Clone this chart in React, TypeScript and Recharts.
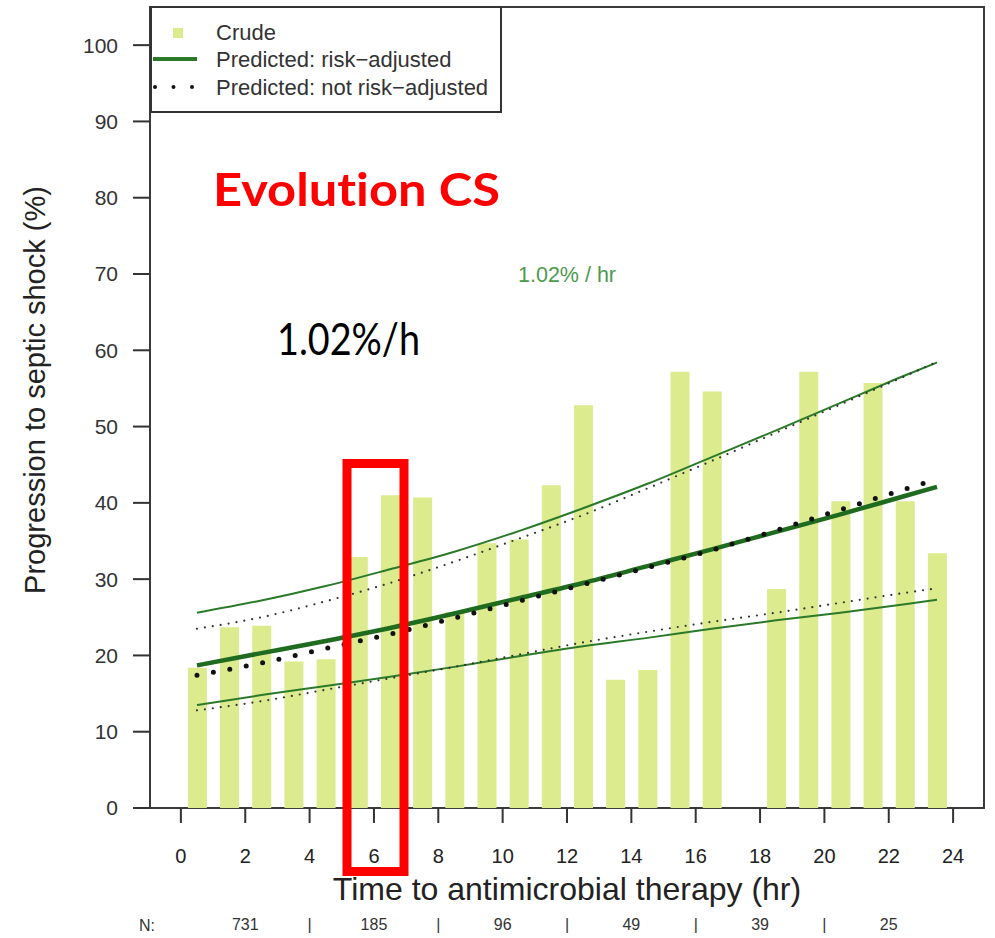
import React from 'react';
import { ComposedChart, Bar, Line, XAxis, YAxis, ReferenceArea, ReferenceDot } from 'recharts';

// crude rate per one-hour bin (17-18 h bin has no bar)
const hours = [0.5, 1.5, 2.5, 3.5, 4.5, 5.5, 6.5, 7.5, 8.5, 9.5, 10.5, 11.5, 12.5, 13.5, 14.5, 15.5, 16.5, 17.5, 18.5, 19.5, 20.5, 21.5, 22.5, 23.5];
const crude = [18.4, 23.7, 23.9, 19.2, 19.5, 32.9, 41.0, 40.7, 25.7, 34.7, 35.2, 42.3, 52.8, 16.8, 18.1, 57.2, 54.6, null, 28.7, 57.2, 40.2, 55.7, 40.2, 33.4];

// fitted curves with their confidence bands, read on the bin centres
const fitHours = [0.5, 2.5, 4.5, 6.5, 8.5, 10.5, 12.5, 14.5, 16.5, 18.5, 20.5, 22.5, 23.5];
const adjusted = [18.7, 20.3, 21.9, 23.6, 25.5, 27.5, 29.5, 31.7, 33.9, 36.2, 38.5, 40.9, 42.1];
const adjustedHi = [25.6, 27.2, 29.1, 31.3, 33.6, 36.3, 39.3, 42.5, 46.0, 49.5, 53.1, 56.7, 58.4];
const adjustedLo = [13.5, 14.8, 16.0, 17.2, 18.5, 19.9, 21.2, 22.3, 23.5, 24.6, 25.6, 26.7, 27.3];
const unadjusted = [17.4, 19.0, 20.9, 22.8, 24.9, 27.1, 29.3, 31.5, 33.8, 36.4, 39.1, 41.8, 43.1];
const unadjustedHi = [23.5, 25.0, 27.1, 29.5, 32.3, 35.3, 38.4, 41.9, 45.5, 49.2, 52.9, 56.6, 58.5];
const unadjustedLo = [12.8, 14.0, 15.5, 17.0, 18.5, 20.1, 21.7, 23.1, 24.4, 25.6, 26.9, 28.2, 28.8];

const xTicks = [0, 2, 4, 6, 8, 10, 12, 14, 16, 18, 20, 22, 24];
const yTicks = [0, 10, 20, 30, 40, 50, 60, 70, 80, 90, 100];

// patient counts under the x axis
const nHours = [2, 4, 6, 8, 10, 12, 14, 16, 18, 20, 22];
const nLabels = ['731', '|', '185', '|', '96', '|', '49', '|', '39', '|', '25'];

const rows = hours.map((t, i) => {
  const f = fitHours.indexOf(t);
  return {
    t,
    crude: crude[i],
    adjusted: f >= 0 ? adjusted[f] : null,
    adjustedHi: f >= 0 ? adjustedHi[f] : null,
    adjustedLo: f >= 0 ? adjustedLo[f] : null,
    unadjusted: f >= 0 ? unadjusted[f] : null,
    unadjustedHi: f >= 0 ? unadjustedHi[f] : null,
    unadjustedLo: f >= 0 ? unadjustedLo[f] : null,
  };
});

const FONT = '"Liberation Sans", Arial, Helvetica, sans-serif';
const HUMANIST = 'Lato, "Open Sans", sans-serif';
const BAR = '#dbeb8e';
const GREEN = '#2a7a2a';
const DARK_GREEN = '#1f6b1f';

const App = () => {
  return (
    <div style={{ position: 'absolute', left: 0, top: 0, width: 995, height: 938, background: '#fff' }}>
      <ComposedChart
        width={995}
        height={938}
        data={rows}
        margin={{ top: 7, right: 11, bottom: 0, left: 0 }}
      >
        <XAxis
          dataKey="t"
          type="number"
          domain={[-0.96, 24.96]}
          allowDataOverflow
          ticks={xTicks}
          interval={0}
          axisLine={false}
          tickLine={{ stroke: '#333', strokeWidth: 2 }}
          tickSize={15}
          tickMargin={26}
          height={95}
          tick={{ fontSize: 20, fill: '#222', fontFamily: FONT }}
          label={{
            content: ({ viewBox }: any) => (
              <text
                x={viewBox.x + viewBox.width / 2}
                y={900}
                textAnchor="middle"
                fontSize={32}
                fontFamily={FONT}
                fill="#222"
              >
                Time to antimicrobial therapy (hr)
              </text>
            ),
          }}
        />
        <XAxis
          xAxisId="n"
          dataKey="t"
          type="number"
          domain={[-0.96, 24.96]}
          allowDataOverflow
          ticks={nHours}
          interval={0}
          axisLine={false}
          tickLine={false}
          tickSize={0}
          tickMargin={16}
          height={35}
          tick={{ fontSize: 16, fill: '#333', fontFamily: FONT }}
          tickFormatter={(v: number) => nLabels[nHours.indexOf(v)] ?? ''}
          label={{
            content: ({ viewBox }: any) => (
              <text x={viewBox.x - 11} y={931} fontSize={16} fontFamily={FONT} fill="#333">
                N:
              </text>
            ),
          }}
        />
        <YAxis
          type="number"
          domain={[0, 105]}
          allowDataOverflow
          ticks={yTicks}
          interval={0}
          width={150}
          axisLine={false}
          tickLine={{ stroke: '#333', strokeWidth: 2 }}
          tickSize={17}
          tickMargin={15}
          tick={{ fontSize: 21, fill: '#333', fontFamily: FONT }}
          label={{
            content: () => (
              <text
                transform="translate(45, 390) rotate(-90)"
                textAnchor="middle"
                fontSize={29}
                fontFamily={FONT}
                fill="#222"
              >
                Progression to septic shock (%)
              </text>
            ),
          }}
        />
        <Bar dataKey="crude" fill={BAR} barSize={19} isAnimationActive={false} />
        <Line dataKey="adjustedHi" type="monotone" stroke={GREEN} strokeWidth={2} dot={false} connectNulls isAnimationActive={false} />
        <Line dataKey="adjustedLo" type="monotone" stroke={GREEN} strokeWidth={2} dot={false} connectNulls isAnimationActive={false} />
        <Line dataKey="unadjustedHi" type="monotone" stroke="#333" strokeWidth={2.2} strokeDasharray="0 8" strokeLinecap="round" dot={false} connectNulls isAnimationActive={false} />
        <Line dataKey="unadjustedLo" type="monotone" stroke="#333" strokeWidth={2.2} strokeDasharray="0 8" strokeLinecap="round" dot={false} connectNulls isAnimationActive={false} />
        <Line dataKey="adjusted" type="monotone" stroke={DARK_GREEN} strokeWidth={4.5} dot={false} connectNulls isAnimationActive={false} />
        <Line dataKey="unadjusted" type="monotone" stroke="#111" strokeWidth={5} strokeDasharray="0 16.7" strokeLinecap="round" dot={false} connectNulls isAnimationActive={false} />
        <ReferenceDot
          x={12}
          y={70}
          r={1}
          fill="none"
          stroke="none"
          ifOverflow="visible"
          label={{ value: '1.02% / hr', position: 'center', fontSize: 21.5, fill: '#4c9a4c', fontFamily: FONT }}
        />
        <ReferenceArea y1={0} y2={105} fill="none" fillOpacity={0} stroke="#3a3a3a" strokeWidth={2} ifOverflow="visible" />
      </ComposedChart>

      {/* legend and slide annotations */}
      <svg width={995} height={938} style={{ position: 'absolute', left: 0, top: 0, pointerEvents: 'none' }}>
        <rect x={151} y={7} width={350} height={105} fill="#fff" stroke="#333" strokeWidth={2} />
        <rect x={173} y={28} width={10} height={10} fill={BAR} />
        <line x1={153} x2={197} y1={59} y2={59} stroke={GREEN} strokeWidth={4} />
        {[155, 173.5, 192].map((cx) => (
          <circle key={cx} cx={cx} cy={87} r={2} fill="#111" />
        ))}
        <g fontFamily={FONT} fontSize={22} fill="#333">
          <text x={216} y={40}>Crude</text>
          <text x={216} y={67}>Predicted: risk−adjusted</text>
          <text x={216} y={95}>Predicted: not risk−adjusted</text>
        </g>
        <g fontFamily={HUMANIST} style={{ fontVariantLigatures: 'none' }}>
          <text x={213} y={206} fontWeight={700} fontSize={46} fill="#ff0000" textLength={287} lengthAdjust="spacingAndGlyphs">
            Evolution CS
          </text>
          <text x={277} y={355} fontSize={44} fill="#000" textLength={143} lengthAdjust="spacingAndGlyphs">
            1.02%/h
          </text>
        </g>
        <rect x={347} y={463.5} width={57} height={408} fill="none" stroke="#ff0000" strokeWidth={9} />
      </svg>
    </div>
  );
};

export default App;
